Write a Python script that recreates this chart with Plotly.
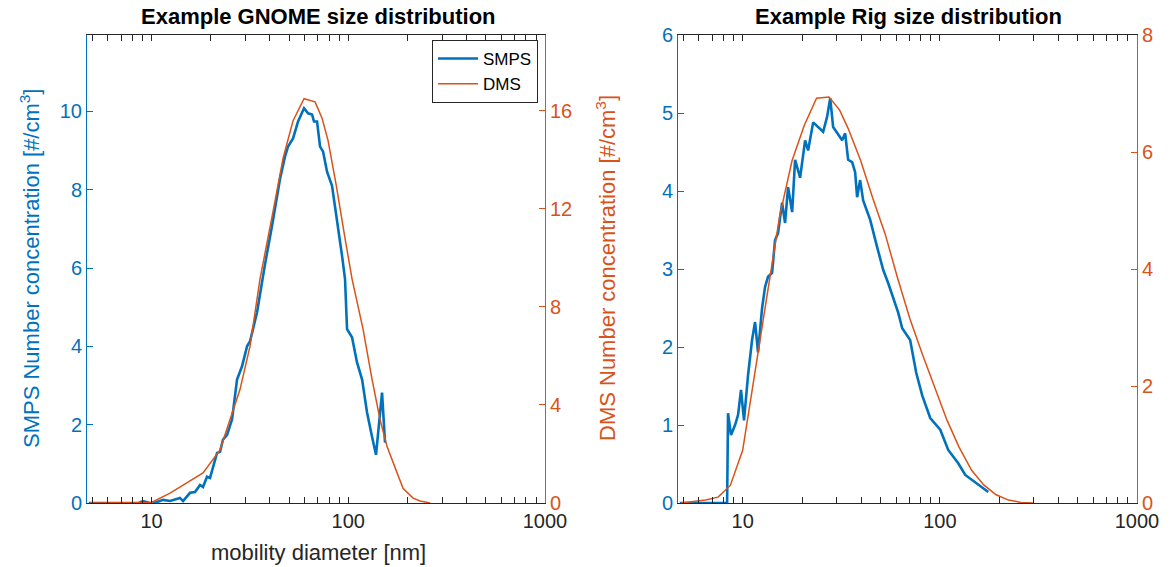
import plotly.graph_objects as go

# ---------------- data ----------------
# GNOME (left panel)
gnome_smps_d = [4.8, 6.0, 7.0, 8.0, 8.6, 9.05, 9.83, 10.6, 11.44, 12.42, 13.96, 14.46, 15.70, 16.64,
                17.64, 18.27, 19.15, 19.83, 20.54, 21.53, 22.30, 23.09, 24.20, 25.66, 27.21,
                28.85, 30.59, 31.68, 34.39, 36.46, 37.76, 40.99, 43.45, 45.01, 47.72, 49.42,
                52.40, 55.56, 59.6, 62.47, 65.46, 67.0, 69.4, 71.9, 74.5, 78.0, 82.7, 85.7,
                88.8, 93.0, 96.3, 98.6, 104.5, 110.8, 117.6, 124.6, 132.1, 138.4, 148.5, 153.8]
gnome_smps_n = [0, 0, 0, 0, 0, 0.05, 0, 0.02, 0.08, 0.05, 0.13, 0.05, 0.26, 0.28,
                0.46, 0.41, 0.67, 0.64, 0.92, 1.28, 1.31, 1.62, 1.74, 2.13, 3.15,
                3.49, 4.0, 4.13, 4.87, 5.72, 6.1, 7.08, 7.82, 8.28, 8.85, 9.1,
                9.31, 9.74, 10.08, 9.95, 9.92, 9.74, 9.74, 9.1, 8.97, 8.46, 8.1, 7.59,
                7.0, 6.31, 5.72, 4.44, 4.23, 3.59, 3.15, 2.31, 1.69, 1.23, 2.82, 1.54]

gnome_dms_d = [4.87, 10.0, 12.42, 18.27, 22.30, 25.06, 28.18, 31.68, 35.61, 41.48, 46.63, 52.40,
               59.6, 67.8, 73.6, 78.9, 86.9, 96.3, 104.5, 118.9, 132.1, 145.1, 157.5, 177.1,
               189.9, 213.5, 231.8, 260.6]
gnome_dms_n = [0, 0.02, 0.4, 1.23, 2.17, 3.4, 4.64, 6.4, 9.15, 11.9, 14.07, 15.6,
               16.5, 16.37, 15.7, 14.8, 12.96, 10.8, 9.15, 7.1, 5.05, 3.4, 2.3, 1.23,
               0.6, 0.2, 0.08, 0]

# Rig (right panel)
rig_smps_d = [4.8, 6.0, 7.0, 8.0, 8.34, 8.43, 8.73, 9.15, 9.48, 9.81, 10.16, 10.65, 11.16, 11.56,
              11.97, 12.55, 12.99, 13.45, 14.10, 14.60, 15.12, 15.85, 16.41, 17.0, 17.82,
              18.45, 19.56, 20.74, 21.48, 22.78, 25.6, 26.8, 27.8, 28.77, 30.5, 31.96, 33.1,
              34.28, 35.92, 37.2, 38.07, 39.43, 40.85, 44.35, 48.1, 51.6, 54.7, 58.0, 61.5,
              64.45, 70.7, 75.9, 81.4, 89.4, 100.5, 110.3, 124.0, 134.6, 151.3, 170.1, 176.1]
rig_smps_n = [0, 0, 0, 0, 0, 1.15, 0.87, 1.0, 1.13, 1.45, 1.06, 1.64, 2.09, 2.32,
              1.93, 2.5, 2.77, 2.9, 2.95, 3.37, 3.46, 3.85, 3.59, 4.05, 3.73,
              4.4, 4.17, 4.65, 4.52, 4.88, 4.76, 4.95, 5.19, 4.82, 4.72, 4.65, 4.74,
              4.4, 4.37, 4.24, 3.92, 4.14, 3.88, 3.63, 3.28, 2.99, 2.82, 2.64, 2.44,
              2.24, 2.09, 1.67, 1.38, 1.09, 0.94, 0.68, 0.51, 0.36, 0.26, 0.17, 0.14]

rig_dms_d = [4.87, 5.62, 6.49, 7.50, 8.66, 10.0, 11.55, 13.3, 15.4, 17.8, 20.5, 23.7, 27.4,
             31.0, 34.3, 39.7, 45.8, 52.8, 61.0, 70.5, 81.4, 94.0, 108.6, 125, 145, 167,
             193, 223, 258, 297]
rig_dms_n = [0, 0.02, 0.05, 0.1, 0.3, 0.9, 2.2, 3.55, 4.9, 5.85, 6.45, 6.92, 6.94,
             6.72, 6.4, 5.85, 5.2, 4.6, 3.85, 3.15, 2.55, 2.0, 1.42, 0.96, 0.56, 0.31,
             0.14, 0.05, 0.01, 0]

titles = ["Example GNOME size distribution", "Example Rig size distribution"]
xlabel = "mobility diameter [nm]"
ylabel_left = "SMPS Number concentration [#/cm<sup>3</sup>]"
ylabel_right = "DMS Number concentration [#/cm<sup>3</sup>]"

# ---------------- style ----------------
BLUE = "#0072BD"
ORANGE = "#D95319"
GRAY = "#262626"
FONT = "Liberation Sans, Arial, Helvetica, sans-serif"
W, H = 1173, 567
TICK = 20

def px_x(p):
    return p / W

def px_y(p):
    return 1 - p / H

fig = go.Figure()

fig.add_trace(go.Scatter(x=gnome_smps_d, y=gnome_smps_n, mode="lines", name="SMPS",
                         line=dict(color=BLUE, width=2.6), xaxis="x", yaxis="y"))
fig.add_trace(go.Scatter(x=gnome_dms_d, y=gnome_dms_n, mode="lines", name="DMS",
                         line=dict(color=ORANGE, width=1.5), xaxis="x", yaxis="y2"))
fig.add_trace(go.Scatter(x=rig_smps_d, y=rig_smps_n, mode="lines", name="SMPS", showlegend=False,
                         line=dict(color=BLUE, width=2.6), xaxis="x2", yaxis="y3"))
fig.add_trace(go.Scatter(x=rig_dms_d, y=rig_dms_n, mode="lines", name="DMS", showlegend=False,
                         line=dict(color=ORANGE, width=1.5), xaxis="x2", yaxis="y4"))

minor_vals = [5, 6, 7, 8, 9, 20, 30, 40, 50, 60, 70, 80, 90, 200, 300, 400, 500, 600, 700, 800, 900]
ydom = [px_y(503), px_y(35)]

def xaxis_cfg(dom, anchor):
    return dict(domain=dom, anchor=anchor, type="log", range=[0.6721, 3], automargin=False,
                tickvals=[10, 100, 1000], ticktext=["10", "100", "1000"],
                ticks="inside", ticklen=6, tickcolor=GRAY, showline=True, linecolor=GRAY,
                linewidth=1, mirror="allticks", showgrid=False, zeroline=False,
                tickfont=dict(family=FONT, size=TICK, color=GRAY),
                minor=dict(tickvals=minor_vals, ticks="inside", ticklen=3, tickcolor=GRAY,
                           showgrid=False))

def yaxis_cfg(color, rng, tv, side="left", overlaying=None, anchor="x"):
    d = dict(domain=ydom, anchor=anchor, range=rng, tickvals=tv, ticktext=[str(v) for v in tv],
             ticks="inside", ticklen=6, tickcolor=color, showline=True, linecolor=color,
             linewidth=1, showgrid=False, zeroline=False, side=side, automargin=False,
             tickfont=dict(family=FONT, size=TICK, color=color))
    if overlaying:
        d["overlaying"] = overlaying
    return d

fig.update_layout(
    template="none",
    width=W, height=H,
    margin=dict(l=0, r=0, t=0, b=0, autoexpand=False),
    paper_bgcolor="white", plot_bgcolor="white",
    font=dict(family=FONT, color=GRAY),
    xaxis=xaxis_cfg([px_x(87), px_x(545)], "y"),
    xaxis2=xaxis_cfg([px_x(678), px_x(1137)], "y3"),
    yaxis=yaxis_cfg(BLUE, [0, 11.95], [0, 2, 4, 6, 8, 10], anchor="x"),
    yaxis2=yaxis_cfg(ORANGE, [0, 19.1], [0, 4, 8, 12, 16], side="right", overlaying="y", anchor="x"),
    yaxis3=yaxis_cfg(BLUE, [0, 6], [0, 1, 2, 3, 4, 5, 6], anchor="x2"),
    yaxis4=yaxis_cfg(ORANGE, [0, 8], [0, 2, 4, 6, 8], side="right", overlaying="y3", anchor="x2"),
    showlegend=True,
    legend=dict(x=px_x(538), y=px_y(40), xanchor="right", yanchor="top",
                bgcolor="white", bordercolor=GRAY, borderwidth=1,
                font=dict(family=FONT, size=17, color="black"),
                tracegroupgap=0, itemwidth=40),
)

def ann(text, x, y, size, color, angle=0):
    return dict(text=text, x=px_x(x), y=px_y(y), xref="paper", yref="paper",
                xanchor="center", yanchor="middle", showarrow=False, textangle=angle,
                font=dict(family=FONT, size=size, color=color))

annotations = [
    ann("<b>" + titles[0] + "</b>", 318, 16, 22, "black"),
    ann("<b>" + titles[1] + "</b>", 908, 16, 22, "black"),
    ann(xlabel, 318, 552, 22, GRAY),
    ann(ylabel_left, 30, 268, 22, BLUE, -90),
    ann(ylabel_right, 606, 268, 22, ORANGE, -90),
]
fig.update_layout(annotations=annotations)

fig.write_html("out.html")
